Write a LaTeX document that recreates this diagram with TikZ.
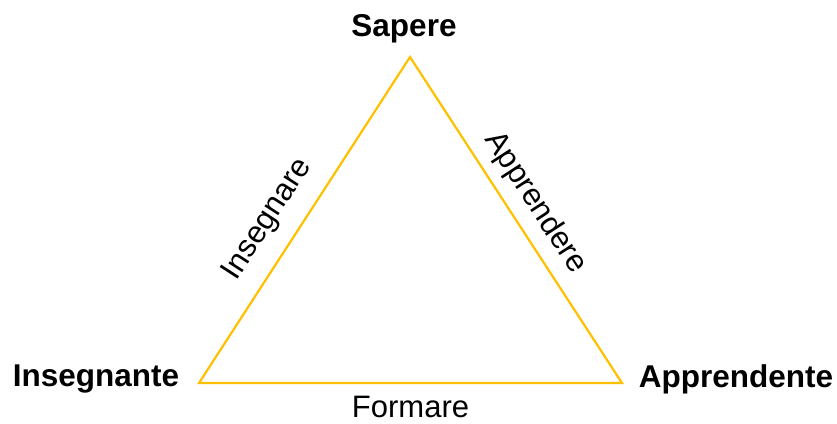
\documentclass[tikz,border=0pt]{standalone}
\usepackage{fontspec}
\setmainfont{Liberation Sans}
\usepackage{xcolor}
\definecolor{gold}{HTML}{FFC000}
\usetikzlibrary{positioning,calc}

\begin{document}
\begin{tikzpicture}[
  x=1pt, y=1pt,
  corner/.style={font=\fontsize{31.5}{36}\selectfont\bfseries, inner sep=0pt},
  side/.style={font=\fontsize{31}{36}\selectfont, inner sep=0pt},
  edge/.style={draw=gold, line width=2.2pt, line join=miter}
]
  \useasboundingbox (0, 0) rectangle (837, 423);

  % Vertices
  \coordinate (top) at (410, 366);
  \coordinate (left) at (199, 40);
  \coordinate (right) at (622, 40);

  % Triangle
  \draw[edge] (top) -- (left) -- (right) -- cycle;

  % Corner labels
  \node[corner] (sapere) at (404, 394) {Sapere};
  \node[corner] (insegnante) at (96, 44) {Insegnante};
  \node[corner] (apprendente) at (736, 44) {Apprendente};

  % Side labels
  \path (left) -- (top) node[side, pos=0.45, sloped, above=17pt] (insegnare) {Insegnare};
  \path (top) -- (right) node[side, pos=0.49, sloped, above=11pt] (apprendere) {Apprendere};
  \path (left) -- (right) node[side, midway, below=13pt] (formare) {Formare};
\end{tikzpicture}
\end{document}
